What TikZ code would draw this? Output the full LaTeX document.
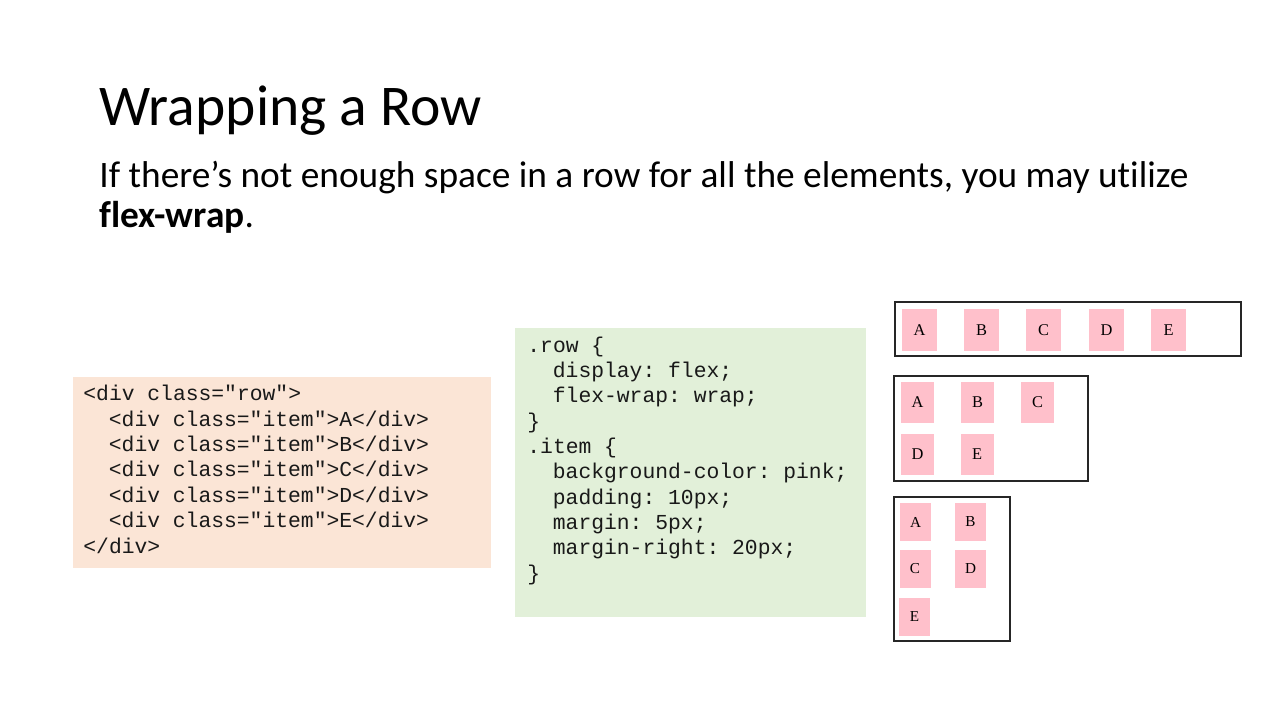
\documentclass[tikz,border=0pt]{standalone}
\usepackage{fontspec}
\setmainfont[Ligatures=NoCommon]{Carlito}
\setmonofont{Liberation Mono}
\newfontfamily\itemfont{Liberation Serif}
\definecolor{peach}{HTML}{FBE5D6}
\definecolor{sage}{HTML}{E2F0D9}
\definecolor{pinkish}{HTML}{FFC0CB}
\begin{document}
\begin{tikzpicture}[x=0.5pt,y=-0.5pt,
  codeline/.style={anchor=base west,inner sep=0pt,text=black!90,font=\ttfamily\fontsize{10.67}{12.75}\selectfont},
  item/.style={fill=pinkish,inner sep=0pt,minimum width=17.5pt,minimum height=21pt,font=\itemfont\fontsize{8.2}{9}\selectfont},
  miditem/.style={item,minimum width=16.5pt,minimum height=20.5pt},
  smallitem/.style={item,minimum width=15.5pt,minimum height=19pt,font=\itemfont\fontsize{7.6}{9}\selectfont},
  frame/.style={draw=black!85,line width=0.6pt}]
\useasboundingbox (0,0) rectangle (1280,720);

% heading and lead text
\node[anchor=base west,inner sep=0pt,font=\fontsize{28.8}{35}\selectfont] (title) at (99,125) {Wrapping a Row};
\node[anchor=base west,inner sep=0pt,font=\fontsize{18.67}{22}\selectfont] (lead1) at (99,187)
  {If there’s not enough space in a row for all the elements, you may utilize};
\node[anchor=base west,inner sep=0pt,font=\fontsize{18.67}{22}\selectfont] (lead2) at (99,227)
  {\textbf{flex-wrap}.};

% HTML snippet
\fill[peach] (73,377) rectangle (491,568);
\node[codeline] (h1) at (83,400.7) {<div class="row">};
\node[codeline] (h2) at (108.5,426.1) {<div class="item">A</div>};
\node[codeline] (h3) at (108.5,451.5) {<div class="item">B</div>};
\node[codeline] (h4) at (108.5,476.9) {<div class="item">C</div>};
\node[codeline] (h5) at (108.5,502.3) {<div class="item">D</div>};
\node[codeline] (h6) at (108.5,527.7) {<div class="item">E</div>};
\node[codeline] (h7) at (83,553.1) {</div>};

% CSS snippet
\fill[sage] (515,328) rectangle (866,617);
\node[codeline] (c1) at (527,352.3) {.row \{};
\node[codeline] (c2) at (552.5,377.6) {display: flex;};
\node[codeline] (c3) at (552.5,402.9) {flex-wrap: wrap;};
\node[codeline] (c4) at (527,428.2) {\}};
\node[codeline] (c5) at (527,453.5) {.item \{};
\node[codeline] (c6) at (552.5,478.8) {background-color: pink;};
\node[codeline] (c7) at (552.5,504.1) {padding: 10px;};
\node[codeline] (c8) at (552.5,529.4) {margin: 5px;};
\node[codeline] (c9) at (552.5,554.7) {margin-right: 20px;};
\node[codeline] (c10) at (527,580) {\}};

% wide container: one row
\draw[frame] (895,302) rectangle (1241,356);
\node[item] (wa) at (919.5,330) {A};
\node[item] (wb) at (981.5,330) {B};
\node[item] (wc) at (1043.5,330) {C};
\node[item] (wd) at (1106.5,330) {D};
\node[item] (we) at (1168.5,330) {E};

% medium container: two rows
\draw[frame] (894,376) rectangle (1088,481);
\node[miditem] (ma) at (917.5,402.5) {A};
\node[miditem] (mb) at (977.5,402.5) {B};
\node[miditem] (mc) at (1037.5,402.5) {C};
\node[miditem] (md) at (917.5,454.5) {D};
\node[miditem] (me) at (977,454.5) {E};

% narrow container: three rows
\draw[frame] (894,497) rectangle (1010,641);
\node[smallitem] (na) at (915.5,522) {A};
\node[smallitem] (nb) at (970.5,522) {B};
\node[smallitem] (nc) at (915,569) {C};
\node[smallitem] (nd) at (970.5,569) {D};
\node[smallitem] (ne) at (914.5,616.5) {E};
\end{tikzpicture}
\end{document}
